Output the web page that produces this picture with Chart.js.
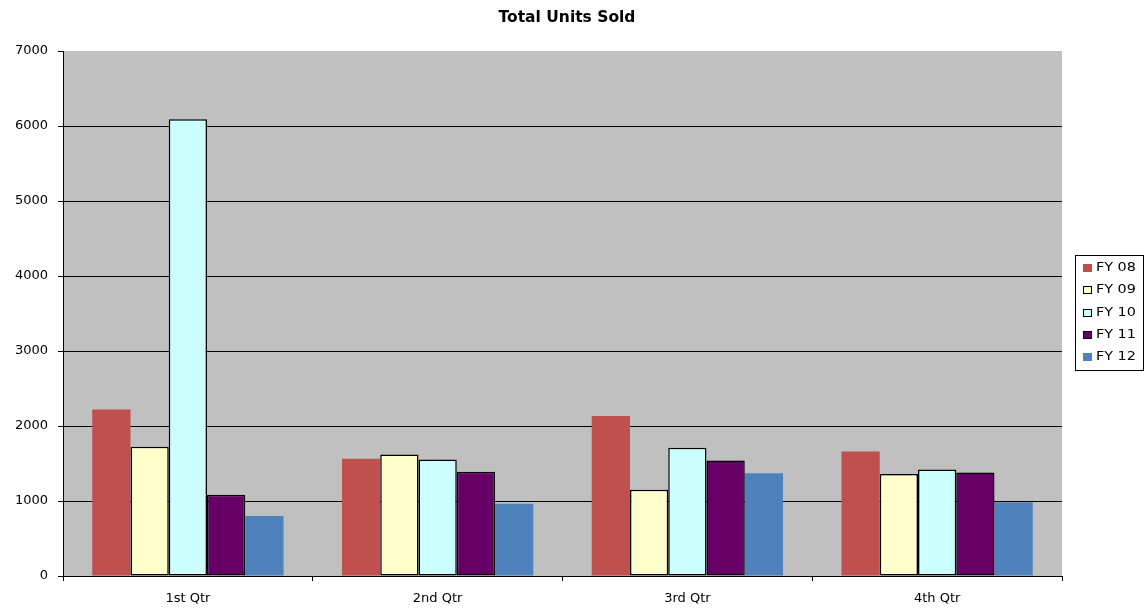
<!DOCTYPE html>
<html><head><meta charset="utf-8">
<script src="https://cdn.jsdelivr.net/npm/chart.js@4.4.1/dist/chart.umd.min.js"></script>
<style>html,body{margin:0;padding:0;background:#fff;overflow:hidden;}</style>
</head><body>
<canvas id="c" width="1145" height="609"></canvas>
<script>
const chartTitle = 'Total Units Sold';
const categories = ['1st Qtr', '2nd Qtr', '3rd Qtr', '4th Qtr'];
const seriesNames = ['FY 08', 'FY 09', 'FY 10', 'FY 11', 'FY 12'];
const fy08 = [2220, 1565, 2135, 1660];
const fy09 = [1725, 1620, 1150, 1360];
const fy10 = [6090, 1555, 1710, 1420];
const fy11 = [1085, 1390, 1540, 1380];
const fy12 = [800, 965, 1370, 985];
const yMin = 0, yMax = 7000, yStep = 1000;

const seriesValues = [fy08, fy09, fy10, fy11, fy12];
const fills = ['#C0504D', '#FFFFCC', '#CCFFFF', '#660066', '#4F81BD'];
const borders = [0, 1.5, 1.5, 1.5, 0];

const bgPlugin = {
  id: 'plotBg',
  beforeDraw(chart) {
    const {ctx, chartArea: a} = chart;
    ctx.save();
    ctx.fillStyle = '#C0C0C0';
    ctx.fillRect(a.left, a.top, a.right - a.left, a.bottom - a.top);
    ctx.restore();
  }
};

const decorPlugin = {
  id: 'decor',
  afterDraw(chart) {
    const ctx = chart.ctx;
    ctx.save();
    // title
    ctx.fillStyle = '#000';
    ctx.font = 'bold 15.5px "DejaVu Sans"';
    ctx.textAlign = 'center';
    ctx.textBaseline = 'middle';
    ctx.fillText(chartTitle, 567, 18);
    // legend
    const bx = 1075.5, by = 255.5, bw = 68, bh = 115;
    ctx.strokeStyle = '#000';
    ctx.lineWidth = 1;
    ctx.strokeRect(bx, by, bw, bh);
    chart.data.datasets.forEach((ds, i) => {
      const cy = 268 + i * 22.3;
      ctx.fillStyle = ds.backgroundColor;
      ctx.fillRect(1083, Math.round(cy) - 4, 9, 8);
      if (ds.borderWidth) {
        ctx.strokeStyle = '#000';
        ctx.lineWidth = 1;
        ctx.strokeRect(1083.5, Math.round(cy) - 3.5, 8, 7);
      }
      ctx.fillStyle = '#000';
      ctx.font = '11.5px "DejaVu Sans"';
      ctx.textAlign = 'left';
      ctx.textBaseline = 'middle';
      ctx.save();
      ctx.translate(1096, cy);
      ctx.scale(1.25, 1);
      ctx.fillText(ds.label, 0, 0);
      ctx.restore();
    });
    ctx.restore();
  }
};

new Chart(document.getElementById('c'), {
  type: 'bar',
  data: {
    labels: categories,
    datasets: seriesNames.map((name, i) => ({
      label: name,
      data: seriesValues[i],
      backgroundColor: fills[i],
      borderColor: '#000',
      borderWidth: borders[i],
      borderSkipped: false,
      categoryPercentage: 0.766,
      barPercentage: 1.0
    }))
  },
  options: {
    responsive: false,
    animation: false,
    devicePixelRatio: 1,
    layout: {padding: {top: 51, right: 83, bottom: 0, left: 0}},
    plugins: {legend: {display: false}, title: {display: false}, tooltip: {enabled: false}},
    scales: {
      x: {
        afterFit(s) { s.height = 33; },
        grid: {display: true, drawOnChartArea: false, offset: true, tickLength: 5, color: '#000', tickColor: '#000'},
        border: {display: true, color: '#000', width: 1},
        ticks: {color: '#000', font: {family: 'DejaVu Sans', size: 13}, padding: 10}
      },
      y: {
        min: yMin, max: yMax,
        afterFit(s) { s.width = 63; },
        grid: {
          tickLength: 5,
          tickColor: '#000',
          color: (c) => (c.tick && c.tick.value === yMax) ? 'rgba(0,0,0,0)' : '#000',
          lineWidth: 1
        },
        border: {display: true, color: '#000', width: 1},
        ticks: {stepSize: yStep, color: '#000', font: {family: 'DejaVu Sans', size: 13}, padding: 10,
                callback: (v) => String(v)}
      }
    }
  },
  plugins: [bgPlugin, decorPlugin]
});
</script>
</body></html>
